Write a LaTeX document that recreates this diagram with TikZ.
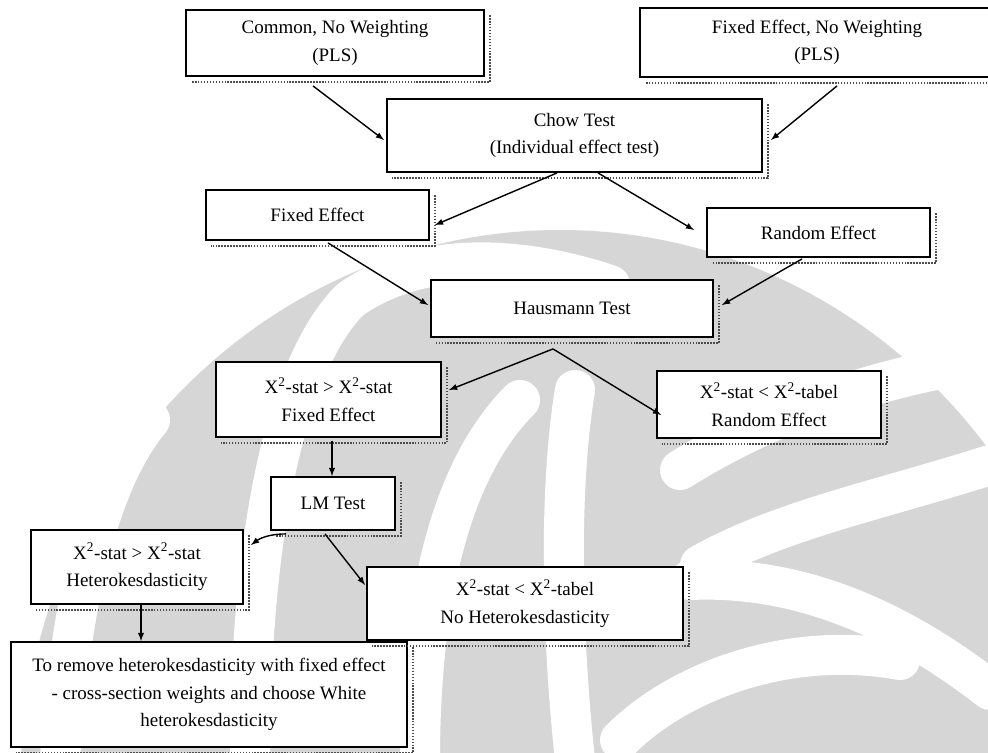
\documentclass[tikz,border=0pt]{standalone}
\usepackage{fontspec}
\setmainfont{Liberation Serif}
\usetikzlibrary{arrows, calc}
\tikzset{
  box/.style={draw, line width=1.3pt, fill=white, align=center, inner sep=2pt,
    font=\fontsize{13.5}{19.5}\selectfont},
  arr/.style={->, >=latex, line width=1pt},
  shade/.style={densely dotted, line width=1.1pt, black!70},
  wm/.style={fill=black!16},
  gap/.style={white, line width=1cm, line cap=round}
}

\begin{document}
\begin{tikzpicture}[x=0.025cm, y=-0.025cm]
    \useasboundingbox (0,0) rectangle (988,752);
    \fill[white] (0,0) rectangle (988,752);

    \fill[wm] (560,790) ellipse [x radius=540, y radius=560];
    \draw[gap] (60,760) .. controls (70,600) and (100,480) .. (150,420);
    \draw[gap] (250,760) .. controls (250,520) and (290,360) .. (350,300) .. controls (420,250) and (520,255) .. (610,285);
    \draw[gap] (420,760) .. controls (420,600) and (450,470) .. (520,400);
    \draw[gap] (575,760) .. controls (560,620) and (560,480) .. (575,390);
    \draw[gap] (700,565) .. controls (780,520) and (880,500) .. (990,465);
    \draw[gap] (690,580) .. controls (800,575) and (900,620) .. (990,690);
    \draw[gap] (620,740) .. controls (680,680) and (790,640) .. (900,660);
    \draw[gap] (680,470) .. controls (760,420) and (860,380) .. (990,360);

    \node[box, minimum width=7.45cm, minimum height=1.65cm] (common) at (335,43) {Common, No Weighting\\(PLS)};
    \node[box, minimum width=8.85cm, minimum height=1.725cm] (fixednw) at (817,42.5) {Fixed Effect, No Weighting\\(PLS)};
    \node[box, minimum width=9.375cm, minimum height=1.825cm] (chow) at (574.5,135.5) {Chow Test\\(Individual effect test)};
    \node[box, minimum width=5.575cm, minimum height=1.25cm] (fixed) at (317.5,215) {Fixed Effect};
    \node[box, minimum width=5.575cm, minimum height=1.225cm] (random) at (818.5,232.5) {Random Effect};
    \node[box, minimum width=7.05cm, minimum height=1.425cm] (haus) at (572,308.5) {Hausmann Test};
    \node[box, minimum width=5.625cm, minimum height=1.875cm] (chifixed) at (328.5,399.5) {X\textsuperscript{2}-stat > X\textsuperscript{2}-stat\\Fixed Effect};
    \node[box, minimum width=5.6cm, minimum height=1.675cm] (chirandom) at (769,404.5) {X\textsuperscript{2}-stat < X\textsuperscript{2}-tabel\\Random Effect};
    \node[box, minimum width=3.1cm, minimum height=1.325cm] (lm) at (333,503.5) {LM Test};
    \node[box, minimum width=5.3cm, minimum height=1.85cm] (chihet) at (137,567) {X\textsuperscript{2}-stat > X\textsuperscript{2}-stat\\Heterokesdasticity};
    \node[box, minimum width=7.9cm, minimum height=1.825cm] (chinohet) at (525,603.5) {X\textsuperscript{2}-stat < X\textsuperscript{2}-tabel\\No Heterokesdasticity};
    \node[box, minimum width=9.9cm, minimum height=2.625cm] (remove) at (209,694.5) {To remove heterokesdasticity with fixed effect\\- cross-section weights and choose White\\heterokesdasticity};

    \foreach \n in {common,fixednw,chow,fixed,random,haus,chifixed,chirandom,lm,chihet,chinohet,remove}
        \draw[shade] ([shift={(5,6)}]\n.north east) -- ([shift={(5,5)}]\n.south east) -- ([shift={(6,5)}]\n.south west);

    \coordinate (split) at ($(haus.south)+(-19,11)$);
    \coordinate (hetout) at ($(chihet.south)+(4,0)$);
    \coordinate (fixout) at ($(chifixed.south)+(3.5,3)$);

    \draw[arr] ($(common.south)+(-22,9)$) -- ($(chow.west)+(-2,4.5)$);
    \draw[arr] ($(fixednw.south)+(20,8)$) -- ($(chow.east)+(8,4.5)$);
    \draw[arr] ($(chow.south)+(-17.5,0)$) -- ($(fixed.east)+(5,10)$);
    \draw[arr] ($(chow.south)+(23.5,0)$) -- ($(random.west)+(-12,-2.5)$);
    \draw[arr] ($(fixed.south)+(10.5,2)$) -- ($(haus.west)+(-2,-3.5)$);
    \draw[arr] ($(random.south)+(-16.5,1)$) -- ($(haus.east)+(8,-3.5)$);
    \draw[arr] (split) -- ($(chifixed.east)+(7,-9.5)$);
    \draw[arr] (split) -- ($(chirandom.west)+(5,10.5)$);
    \draw[arr] (fixout) -- (fixout |- lm.north);
    \draw[arr] ($(lm.south)+(-47,3)$) .. controls +(-18,0) and +(8,-6) .. ($(chihet.east)+(7,-22)$);
    \draw[arr] ($(lm.south)+(-8,3)$) -- ($(chinohet.west)+(-1,-18.5)$);
    \draw[arr] (hetout) -- (hetout |- remove.north);
\end{tikzpicture}
\end{document}
